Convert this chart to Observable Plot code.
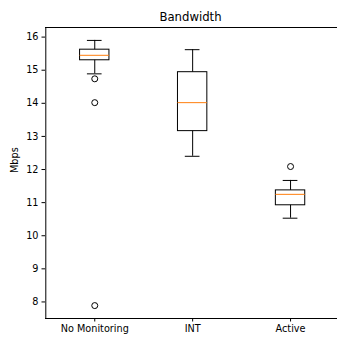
<!DOCTYPE html>
<html>
<head>
<meta charset="utf-8">
<script src="https://cdn.jsdelivr.net/npm/d3@7"></script>
<script src="https://cdn.jsdelivr.net/npm/@observablehq/plot@0.6"></script>
<style>
  html, body { margin: 0; padding: 0; background: #fff; }
  #wrap { position: relative; width: 337px; height: 340px; overflow: hidden; font-family: "DejaVu Sans", sans-serif; }
  #title { position: absolute; z-index: 2; left: 0; top: 10.8px; width: 381px; text-align: center; font-size: 11.7px; line-height: 13.6px; color: #000; white-space: nowrap; }
  #chart { position: absolute; z-index: 1; left: 0; top: 0; }
</style>
</head>
<body>
<div id="wrap">
  <div id="title">Bandwidth</div>
  <div id="chart"></div>
</div>
<script>
const categories = ["No Monitoring", "INT", "Active"];
const whiskerLow = [14.89, 12.40, 10.53];
const q1 = [15.30, 13.16, 10.92];
const median = [15.45, 14.02, 11.25];
const q3 = [15.62, 14.94, 11.37];
const whiskerHigh = [15.90, 15.62, 11.67];
const outlierCategory = ["No Monitoring", "No Monitoring", "No Monitoring", "Active"];
const outlierValue = [14.74, 14.02, 7.89, 12.09];
const yTicks = [8, 9, 10, 11, 12, 13, 14, 15, 16];
const yLabel = "Mbps";

const boxes = categories.map((c, i) => ({
  pos: i + 1, lo: whiskerLow[i], q1: q1[i], med: median[i], q3: q3[i], hi: whiskerHigh[i]
}));
const outliers = outlierValue.map((v, i) => ({ pos: categories.indexOf(outlierCategory[i]) + 1, v }));

const hw = 0.15, cw = 0.075;
const yMin = 7.5, yMax = 16.29;

const plot = Plot.plot({
  width: 337,
  height: 340,
  marginLeft: 45,
  marginRight: 0,
  marginTop: 27,
  marginBottom: 22,
  style: { fontFamily: "DejaVu Sans, sans-serif", fontSize: "9.7px", color: "#000", background: "transparent", overflow: "visible" },
  x: { type: "linear", domain: [0.5, 3.5], range: [45.3, 339] },
  y: { domain: [yMin, yMax], range: [318, 27] },
  marks: [
    Plot.axisY(yTicks, { tickSize: 3.5, tickPadding: 3.5, tickFormat: d => String(d), label: null, stroke: "#000", strokeOpacity: 1, fill: "#000" }),
    Plot.axisX([1, 2, 3], { tickSize: 3.5, tickPadding: 3.5, tickFormat: d => categories[d - 1], label: null, stroke: "#000", strokeOpacity: 1, fill: "#000" }),
    Plot.text([yLabel], { frameAnchor: "left", dx: -30.5, rotate: -90, fill: "#000", fontSize: 9.7 }),
    // whiskers
    Plot.ruleX(boxes, { x: "pos", y1: "lo", y2: "q1", stroke: "#000", strokeWidth: 1 }),
    Plot.ruleX(boxes, { x: "pos", y1: "q3", y2: "hi", stroke: "#000", strokeWidth: 1 }),
    // caps
    Plot.ruleY(boxes, { y: "lo", x1: d => d.pos - cw, x2: d => d.pos + cw, stroke: "#000", strokeWidth: 1 }),
    Plot.ruleY(boxes, { y: "hi", x1: d => d.pos - cw, x2: d => d.pos + cw, stroke: "#000", strokeWidth: 1 }),
    // boxes
    Plot.rect(boxes, { x1: d => d.pos - hw, x2: d => d.pos + hw, y1: "q1", y2: "q3", fill: "none", stroke: "#000", strokeWidth: 1 }),
    // medians
    Plot.ruleY(boxes, { y: "med", x1: d => d.pos - hw, x2: d => d.pos + hw, stroke: "#ff7f0e", strokeWidth: 1 }),
    // fliers
    Plot.dot(outliers, { x: "pos", y: "v", r: 3, fill: "none", stroke: "#000", strokeWidth: 1 }),
    // spines
    Plot.ruleX([0.5], { stroke: "#000", strokeWidth: 1 }),
    Plot.ruleY([yMin], { stroke: "#000", strokeWidth: 1 }),
    Plot.ruleY([yMax], { stroke: "#000", strokeWidth: 1 })
  ]
});
document.getElementById("chart").appendChild(plot);
</script>
</body>
</html>
